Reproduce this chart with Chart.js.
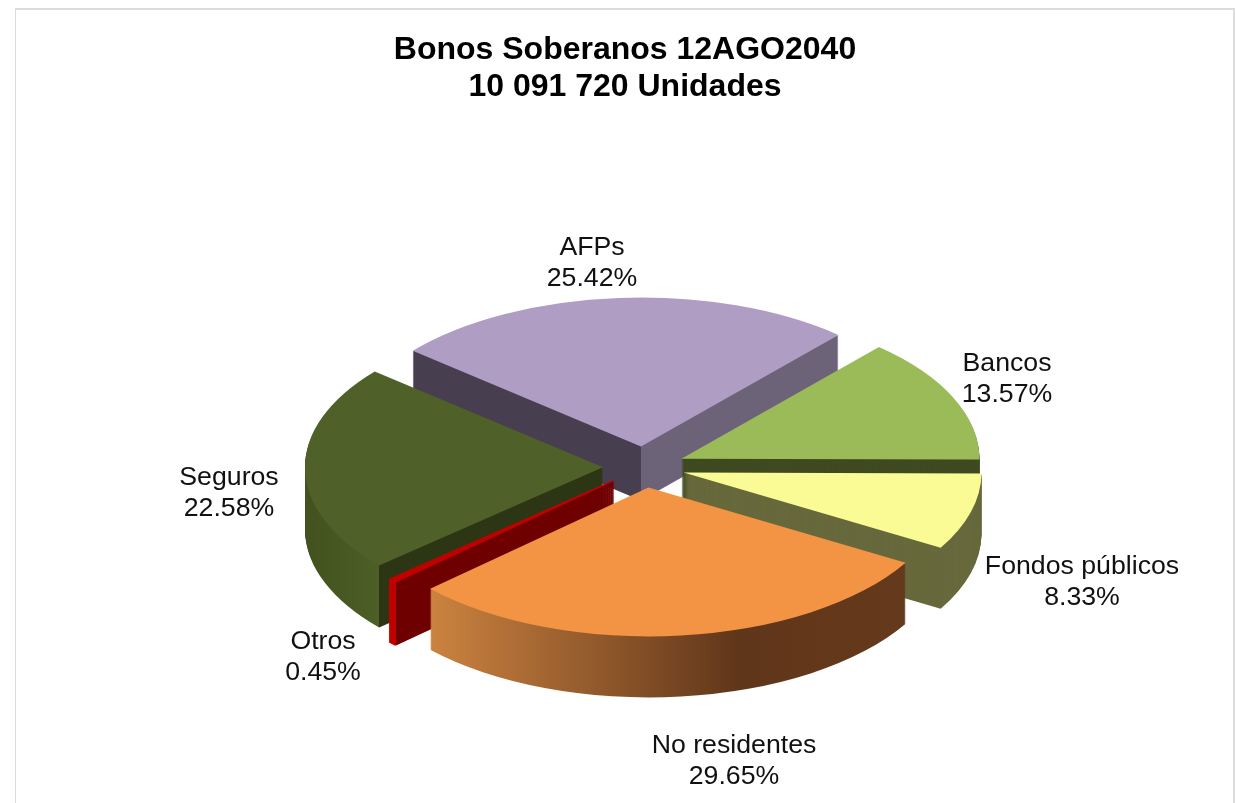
<!DOCTYPE html>
<html>
<head>
<meta charset="utf-8">
<title>Bonos Soberanos 12AGO2040</title>
<script src="https://cdn.jsdelivr.net/npm/chart.js@4"></script>
<style>
  html, body { margin: 0; padding: 0; background: #fff; overflow: hidden; }
  #frame { position: absolute; left: 15px; top: 8px; width: 1217px; height: 800px;
           border: 1px solid #dcdcdc; border-width: 2px 2px 0 1px; }
  canvas { position: absolute; left: 0; top: 0; }
</style>
</head>
<body>
<div id="frame"></div>
<canvas id="chart" width="1235" height="803"></canvas>
<script>
const titleLines = ["Bonos Soberanos 12AGO2040", "10 091 720 Unidades"];
const categories = ["AFPs", "Bancos", "Fondos públicos", "No residentes", "Otros", "Seguros"];
const shares = [25.42, 13.57, 8.33, 29.65, 0.45, 22.58];

// look of the slices, same order as categories
const topColors = ["#b09dc4", "#9bbb59", "#fbfb96", "#f39445", "#c00000", "#4f6128"];
const wallColors = [
  [[0, "#473e50"], [0, "#6d6379"]],
  [[0, "#3f4a20"]],
  [[0, "#67693c"]],
  [[-220, "#cc8340"], [90, "#60361a"], [255, "#65391b"]],
  [[-224, "#c00000"], [-218, "#c00000"], [-218, "#6e0000"]],
  [[-297, "#42521e"], [-224, "#4d5e27"], [-224, "#2c3614"]]
];
const wallDepth = [54, 60, 61, 61, 63, 62];
const drawOrder = [0, 1, 2, 5, 4, 3];

const pieCenterX = 644;
const pieCenterY = 467;
const squash = 0.5;
const explode = 41;

// centre of each two line label on the page
const labelX = [592, 1007, 1082, 734, 323, 229];
const labelY = [263, 379, 582, 761, 657, 493];

function wallFill(ctx, arc, stops) {
  if (stops.length == 1) return stops[0][1];
  // hard edges need some width, so run the gradient over the whole slice
  const from = arc.x - 400;
  const g = ctx.createLinearGradient(from, 0, from + 800, 0);
  stops.forEach((s) => g.addColorStop((s[0] + 400) / 800, s[1]));
  return g;
}

function drawArcWith(ctx, arc, color, border) {
  const saved = arc.options;
  arc.options = Object.assign({}, saved, { backgroundColor: color });
  if (border) {
    arc.options.borderWidth = border;
    arc.options.borderColor = color;
  }
  arc.draw(ctx);
  arc.options = saved;
}

const pie3d = {
  id: "pie3d",
  beforeDatasetsDraw(chart) {
    const ctx = chart.ctx;
    const arcs = chart.getDatasetMeta(0).data;
    drawOrder.forEach((i) => {
      const arc = arcs[i];
      const mid = (arc.startAngle + arc.endAngle) / 2;
      const placeSlice = (depth) => {
        ctx.translate(pieCenterX, pieCenterY + depth);
        ctx.scale(1, squash);
        ctx.translate(-arc.x + Math.cos(mid) * explode, -arc.y + Math.sin(mid) * explode);
      };
      const fill = wallFill(ctx, { x: arc.x }, wallColors[i]);
      // the Otros slice is so thin that its wall fades out near the tip without a border
      const border = categories[i] == "Otros" ? 2 : 0;
      for (let d = wallDepth[i]; d > 0; d--) {
        ctx.save();
        placeSlice(d);
        drawArcWith(ctx, arc, fill, border);
        ctx.restore();
      }
      ctx.save();
      placeSlice(0);
      drawArcWith(ctx, arc, topColors[i], border);
      ctx.restore();
    });
    return false;
  },
  afterDraw(chart) {
    const ctx = chart.ctx;
    ctx.save();
    ctx.font = "26.7px 'Liberation Sans', Arial, sans-serif";
    ctx.fillStyle = "#111";
    ctx.textAlign = "center";
    ctx.textBaseline = "middle";
    categories.forEach((name, i) => {
      ctx.fillText(name, labelX[i], labelY[i] - 15);
      ctx.fillText(shares[i].toFixed(2) + "%", labelX[i], labelY[i] + 16);
    });
    ctx.restore();
  }
};

new Chart(document.getElementById("chart"), {
  type: "pie",
  data: {
    labels: categories,
    datasets: [{ data: shares, backgroundColor: topColors, borderWidth: 0, offset: 0, hoverOffset: 0 }]
  },
  options: {
    responsive: false,
    animation: false,
    rotation: -50,
    radius: 298,
    layout: { padding: { left: 15 } },
    plugins: {
      legend: { display: false },
      tooltip: { enabled: false },
      title: {
        display: true,
        text: titleLines,
        color: "#000",
        padding: { top: 32, bottom: 0 },
        font: { family: "'Liberation Sans', Arial, sans-serif", size: 32, weight: "bold", lineHeight: 1.14 }
      }
    }
  },
  plugins: [pie3d]
});
</script>
</body>
</html>
